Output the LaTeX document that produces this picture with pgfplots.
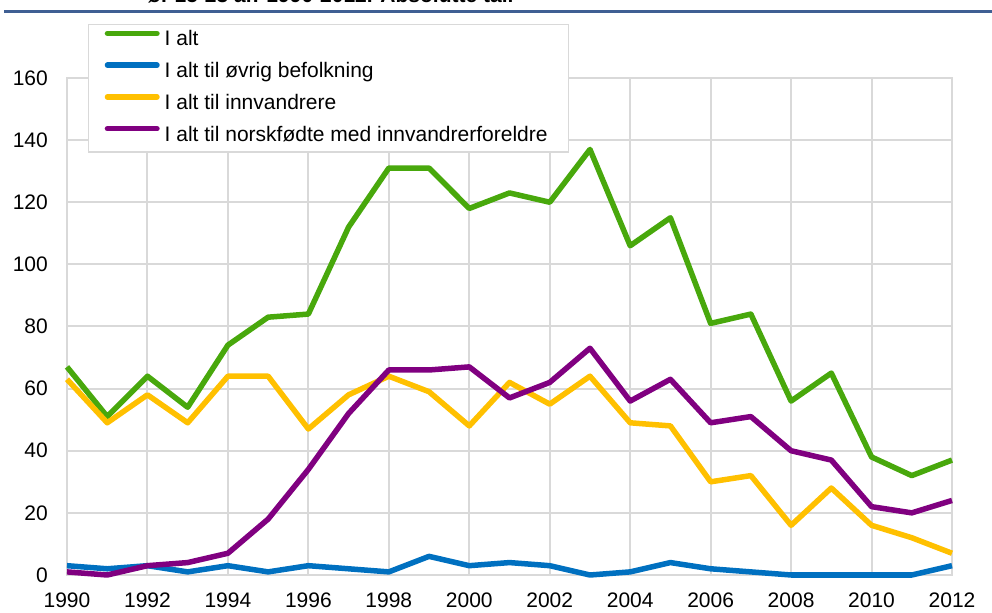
\documentclass[border=0pt]{standalone}
\usepackage{fontspec}
\setmainfont{Liberation Sans}
\usepackage{pgfplots}
\pgfplotsset{compat=1.18}
\definecolor{cgreen}{HTML}{48A80C}
\definecolor{cblue}{HTML}{0070C0}
\definecolor{cyellow}{HTML}{FFC000}
\definecolor{cpurple}{HTML}{800080}
\definecolor{cgrid}{HTML}{D9D9D9}
\definecolor{ctitle}{HTML}{3F5F93}
\newcommand{\bigfont}{\fontsize{21bp}{25bp}\selectfont}
\begin{document}
\begin{tikzpicture}
\useasboundingbox (0,0) rectangle (992bp,613bp);
\node[anchor=base west, inner sep=0pt, font=\bfseries\bigfont] at (148bp,610bp) {ø. 15-23 år. 1990-2012. Absolutte tall};
\draw[ctitle, line width=3bp] (4bp,601.5bp) -- (992bp,601.5bp);
\begin{axis}[
  scale only axis,
  width=885bp, height=497bp,
  at={(67bp,38bp)}, anchor=south west,
  xmin=1990, xmax=2012, ymin=0, ymax=160,
  xtick={1990,1992,...,2012},
  ytick={0,20,...,160},
  grid=major,
  major grid style={draw=cgrid, line width=2bp},
  axis line style={draw=cgrid, line width=2bp},
  major tick length=0pt,
  clip=false,
  /pgf/number format/1000 sep={},
  /pgf/number format/assume math mode=true,
  ticklabel style={font=\bigfont, inner sep=0pt},
  xticklabel style={anchor=north, yshift=-18bp},
  yticklabel style={anchor=east, xshift=-19bp},
  legend cell align=left,
  legend style={at={(0.0237,1.1087)}, anchor=north west, draw=cgrid, line width=1.5bp, fill=white,
    font=\bigfont, inner xsep=16bp, inner ysep=6bp, row sep=11.5bp, column sep=0bp,
    nodes={inner ysep=0pt, inner xsep=5bp, text height=15bp, text depth=5bp}},
  legend image code/.code={\draw[#1, line width=5.5bp, line cap=round] (2.75bp,7.5bp) -- (52.25bp,7.5bp);},
  every axis plot/.append style={line width=5.5bp, line join=round, no markers},
]
\addplot[cgreen] coordinates {(1990,67)(1991,51)(1992,64)(1993,54)(1994,74)(1995,83)(1996,84)(1997,112)(1998,131)(1999,131)(2000,118)(2001,123)(2002,120)(2003,137)(2004,106)(2005,115)(2006,81)(2007,84)(2008,56)(2009,65)(2010,38)(2011,32)(2012,37)};
\addlegendentry{I alt}
\addplot[cblue] coordinates {(1990,3)(1991,2)(1992,3)(1993,1)(1994,3)(1995,1)(1996,3)(1997,2)(1998,1)(1999,6)(2000,3)(2001,4)(2002,3)(2003,0)(2004,1)(2005,4)(2006,2)(2007,1)(2008,0)(2009,0)(2010,0)(2011,0)(2012,3)};
\addlegendentry{I alt til øvrig befolkning}
\addplot[cyellow] coordinates {(1990,63)(1991,49)(1992,58)(1993,49)(1994,64)(1995,64)(1996,47)(1997,58)(1998,64)(1999,59)(2000,48)(2001,62)(2002,55)(2003,64)(2004,49)(2005,48)(2006,30)(2007,32)(2008,16)(2009,28)(2010,16)(2011,12)(2012,7)};
\addlegendentry{I alt til innvandrere}
\addplot[cpurple] coordinates {(1990,1)(1991,0)(1992,3)(1993,4)(1994,7)(1995,18)(1996,34)(1997,52)(1998,66)(1999,66)(2000,67)(2001,57)(2002,62)(2003,73)(2004,56)(2005,63)(2006,49)(2007,51)(2008,40)(2009,37)(2010,22)(2011,20)(2012,24)};
\addlegendentry{I alt til norskfødte med innvandrerforeldre}
\end{axis}
\end{tikzpicture}
\end{document}
